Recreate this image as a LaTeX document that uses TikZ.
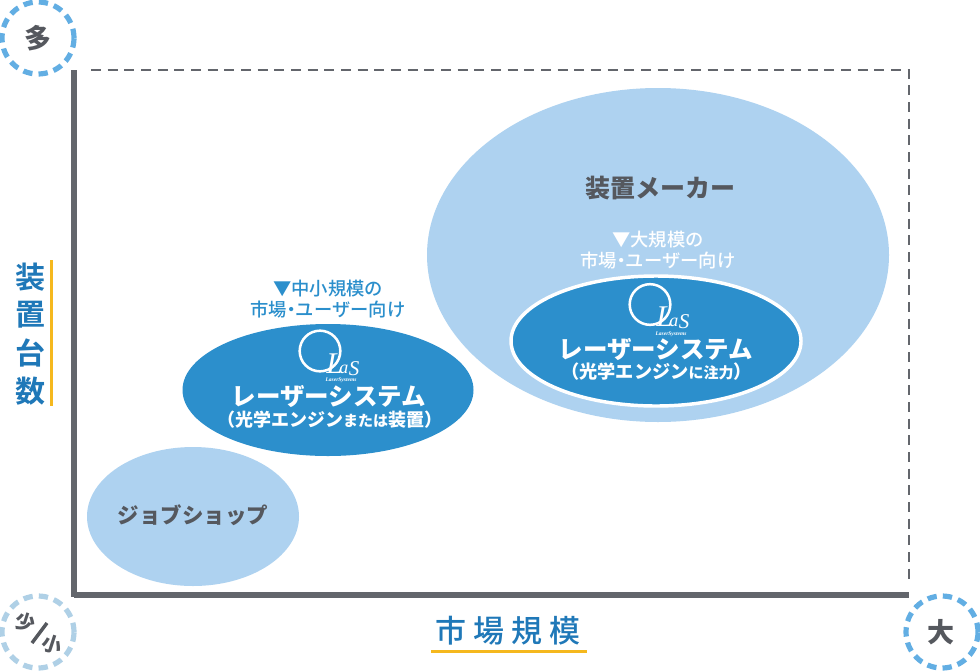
\documentclass[tikz,border=0pt]{standalone}
\usepackage{fontspec}
\setmainfont{Liberation Serif}
\newfontfamily\jpb{Noto Sans CJK JP Black}
\newfontfamily\jpbold{Noto Sans CJK JP Bold}
\newfontfamily\jpm{Noto Sans CJK JP Medium}
\definecolor{lightblob}{HTML}{AED2F0}
\definecolor{midblue}{HTML}{2C8FCC}
\definecolor{labelblue}{HTML}{2B8FCC}
\definecolor{axisgrey}{HTML}{63666C}
\definecolor{textgrey}{HTML}{55585E}
\definecolor{dashblue}{HTML}{62AEE3}
\definecolor{dashpale}{HTML}{AFD0E6}
\definecolor{titleblue}{HTML}{1F78B8}
\definecolor{barorange}{HTML}{F5B81E}
\newcommand{\pxs}[2]{\fontsize{\dimexpr#1pt*3/4\relax}{\dimexpr#2pt*3/4\relax}\selectfont}
\usetikzlibrary{shapes.geometric}
\tikzset{
  x=0.75pt,y=-0.75pt,
  blob/.style={ellipse,fill=lightblob,inner sep=0pt},
  deep/.style={ellipse,fill=midblue,inner sep=0pt},
  corner/.style={circle,inner sep=0pt,minimum size=54pt,line width=3.9pt,dash pattern=on 7pt off 4.6pt},
  greylabel/.style={text=textgrey,inner sep=0pt},
  whitelabel/.style={text=white,inner sep=0pt,align=center},
  sublabel/.style={inner sep=0pt,align=center,font=\jpm\pxs{18.3}{21}},
  ytitle/.style={text=titleblue,inner sep=0pt,font=\jpbold\pxs{30}{30}},
  xtitle/.style={text=titleblue,inner sep=0pt,font=\jpm\pxs{31}{31}},
  logotext/.style={text=white,inner sep=0pt,anchor=base west,font=\itshape},
  logosmall/.style={text=white,inner sep=0pt,font=\itshape\bfseries\pxs{5.5}{6}},
  logoring/.style={draw=white,line width=1.9pt,circle,inner sep=0pt,minimum size=30.5pt},
  axisline/.style={draw=axisgrey,line width=4.2pt},
  limitline/.style={draw=axisgrey,line width=1.5pt,dash pattern=on 7.5pt off 5pt},
}
\newcommand{\laslogo}{{\pxs{30}{30}L}\kern-2.6pt{\pxs{18}{18}a}\kern0.2pt\raisebox{-1.8pt}{\pxs{21}{21}S}}
\newcommand{\tightdot}{\kern-3.6pt・\kern-3.6pt}
\begin{document}
\begin{tikzpicture}
\useasboundingbox (0,0) rectangle (980,671);
\fill[white] (0,0) rectangle (980,671);
% axes
\coordinate (o) at (74,595);
\coordinate (yt) at (74,70);
\coordinate (xr) at (909,595);
\coordinate (tr) at (909,70);
\coordinate (ts) at (91,70);
\coordinate (re) at (909,580);
\coordinate (ob) at (74,597.1);
\draw[limitline] (ts) -- (tr) -- (re);
\draw[axisline] (yt) -- (ob);
\draw[axisline] (o) -- (xr);
% blobs
\node[blob,minimum width=346.5pt,minimum height=250.5pt] (maker) at (658,255) {};
\node[blob,minimum width=159pt,minimum height=104.25pt] (shop) at (193,516.5) {};
\node[deep,minimum width=218.25pt,minimum height=99pt] (mid) at (328,390) {};
\node[deep,draw=white,line width=2.6pt,minimum width=217.5pt,minimum height=97.5pt] (big) at (656,341) {};
% blob titles
\node[greylabel] (makert) at (660,188) {\jpb\pxs{25}{30}装置メーカー};
\node[greylabel] (shopt) at (193,515) {\jpb\pxs{21.5}{30}ジョブショップ};
% sub labels
\node[sublabel,text=labelblue] (midn) at (328,299) {▼中小規模の\\市場\tightdot ユーザー向け};
\node[sublabel,text=white] (bign) at (658,250) {▼大規模の\\市場\tightdot ユーザー向け};
% logos
\node[logoring] (lc1) at (320,351) {};
\coordinate (la1) at (326,373);
\node[logotext] (lt1) at (la1) {\laslogo};
\node[logosmall] (ls1) at (341,380.5) {LaserSystems};
\node[logoring] (lc2) at (650,304.5) {};
\coordinate (la2) at (656,326.5);
\node[logotext] (lt2) at (la2) {\laslogo};
\node[logosmall] (ls2) at (671,334) {LaserSystems};
% deep labels
\node[whitelabel] (midt) at (329,396.5) {\jpb\pxs{24.5}{28}レーザーシステム};
\node[whitelabel] (mids) at (329.5,420) {\jpb\pxs{18}{22}（光学エンジン{\pxs{15}{22}または}装置）};
\node[whitelabel] (bigt) at (656,349.5) {\jpb\pxs{24.5}{28}レーザーシステム};
\node[whitelabel] (bigs) at (656.5,372) {\jpb\pxs{18.2}{22}（光学エンジン{\pxs{15}{22}に注力}）};
% corners
\node[corner,draw=dashblue] (many) at (38,38) {};
\node[corner,draw=dashpale] (few) at (38,632) {};
\node[corner,draw=dashblue] (large) at (942,632) {};
\node[greylabel] (manyt) at (38,38) {\jpb\pxs{27}{27}多};
\node[greylabel] (larget) at (941,632) {\jpb\pxs{27}{27}大};
\node[greylabel,rotate=-18] (fewa) at (25,622) {\jpb\pxs{20}{20}少};
\node[greylabel,rotate=-18] (fewb) at (52,644) {\jpb\pxs{20}{20}小};
\coordinate (sa) at (32,643);
\coordinate (sb) at (47,623);
\draw[textgrey,line width=2.6pt] (sa) -- (sb);
% axis titles
\node[ytitle] (ya) at (30,277) {装};
\node[ytitle] (yb) at (30,315) {置};
\node[ytitle] (yc) at (30,353) {台};
\node[ytitle] (yd) at (30,391) {数};
\node[xtitle] (xa) at (451,631) {市};
\node[xtitle] (xb) at (489,631) {場};
\node[xtitle] (xc) at (527,631) {規};
\node[xtitle] (xd) at (565,631) {模};
\coordinate (ba) at (51.5,260);
\coordinate (bb) at (51.5,406);
\coordinate (bc) at (431,651.5);
\coordinate (bd) at (587,651.5);
\draw[barorange,line width=2.6pt] (ba) -- (bb);
\draw[barorange,line width=2.6pt] (bc) -- (bd);
\end{tikzpicture}
\end{document}
